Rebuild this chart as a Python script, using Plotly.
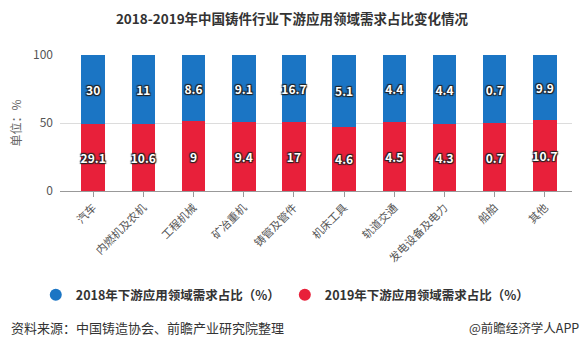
import plotly.graph_objects as go

categories = ["汽车", "内燃机及农机", "工程机械", "矿冶重机", "铸管及管件", "机床工具", "轨道交通", "发电设备及电力", "船舶", "其他"]
share_2018 = [30, 11, 8.6, 9.1, 16.7, 5.1, 4.4, 4.4, 0.7, 9.9]
share_2019 = [29.1, 10.6, 9, 9.4, 17, 4.6, 4.5, 4.3, 0.7, 10.7]
name_2018 = "2018年下游应用领域需求占比（%）"
name_2019 = "2019年下游应用领域需求占比（%）"
color_2018 = "#1b75c4"
color_2019 = "#e8203a"

FONT = "Noto Sans CJK SC, Microsoft YaHei, sans-serif"
label_font = dict(family=FONT, size=12, color="white", weight="bold",
                  shadow="1px 1px 1px #222, -1px -1px 1px #222, 1px -1px 1px #222, -1px 1px 1px #222")

fig = go.Figure()
fig.add_trace(go.Bar(
    x=categories, y=share_2019, name=name_2019, marker_color=color_2019,
    text=share_2019, texttemplate="%{text}", textposition="inside", textangle=0,
    constraintext="none", insidetextanchor="middle", textfont=label_font,
    showlegend=False, marker_line_width=0,
))
fig.add_trace(go.Bar(
    x=categories, y=share_2018, name=name_2018, marker_color=color_2018,
    text=share_2018, texttemplate="%{text}", textposition="inside", textangle=0,
    constraintext="none", insidetextanchor="middle", textfont=label_font,
    showlegend=False, marker_line_width=0,
))
# legend entries with round markers
for nm, col in [(name_2018, color_2018), (name_2019, color_2019)]:
    fig.add_trace(go.Scatter(x=[None], y=[None], mode="markers", name=nm,
                             marker=dict(symbol="circle", size=12, color=col)))

fig.update_layout(
    width=584, height=347,
    barmode="stack", barnorm="percent", bargap=0.53,
    paper_bgcolor="white", plot_bgcolor="white",
    font=dict(family=FONT, color="#555", size=11),
    margin=dict(l=60, r=12, t=55, b=156, autoexpand=False),
    title=dict(text="<b>2018-2019年中国铸件行业下游应用领域需求占比变化情况</b>",
               x=0.5, xanchor="center", y=0.945, yanchor="middle",
               font=dict(size=13.5, color="#333", family=FONT)),
    showlegend=True,
    legend=dict(orientation="h", x=0.44, xanchor="center",
                y=-0.765, yanchor="middle",
                font=dict(size=12.5, color="#333", family=FONT, weight="bold"),
                traceorder="normal", itemwidth=30),
)
fig.update_xaxes(
    type="category", range=[-0.66, 9.54], tickangle=-45,
    showline=True, linecolor="#999", linewidth=1,
    ticks="outside", ticklen=5, tickcolor="#999",
    tickfont=dict(size=11, color="#555"), showgrid=False,
)
fig.update_yaxes(
    range=[0, 100], tickvals=[0, 50, 100], showgrid=True, gridcolor="#dcdcdc",
    zeroline=False, tickfont=dict(size=12, color="#555"),
    title=dict(text="单位：%", font=dict(size=12, color="#666"), standoff=8),
    ticks="", ticklabelstandoff=6,
)

fig.add_annotation(text="资料来源：中国铸造协会、前瞻产业研究院整理", xref="paper", yref="paper",
                   x=-0.1, y=-1.0, xanchor="left", yanchor="middle", showarrow=False,
                   font=dict(size=13, color="#333", family=FONT))
fig.add_annotation(text="@前瞻经济学人APP", xref="paper", yref="paper",
                   x=1.018, y=-1.0, xanchor="right", yanchor="middle", showarrow=False,
                   font=dict(size=12.5, color="#333", family=FONT))

fig.write_html("out.html")
